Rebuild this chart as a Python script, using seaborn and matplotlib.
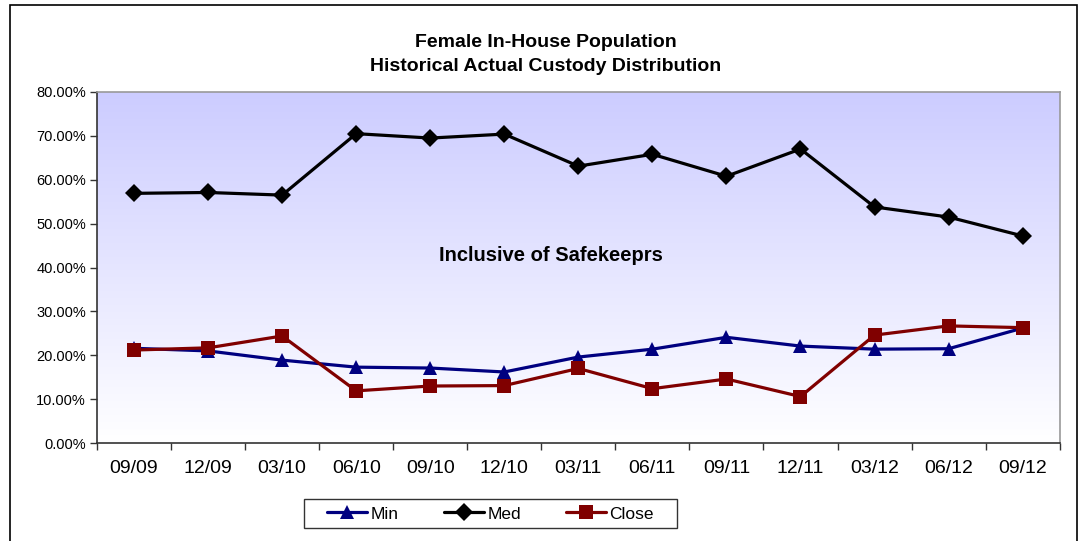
import numpy as np
import pandas as pd
import matplotlib
matplotlib.use("Agg")
import matplotlib.pyplot as plt
import seaborn as sns
from matplotlib.ticker import FuncFormatter, FixedLocator

quarters = ["09/09", "12/09", "03/10", "06/10", "09/10", "12/10", "03/11",
            "06/11", "09/11", "12/11", "03/12", "06/12", "09/12"]
min_vals = [21.6, 21.0, 18.9, 17.3, 17.1, 16.2, 19.6, 21.4, 24.1, 22.1, 21.4, 21.5, 26.2]
med_vals = [56.9, 57.1, 56.5, 70.5, 69.5, 70.4, 63.1, 65.8, 60.8, 67.0, 53.8, 51.5, 47.2]
close_vals = [21.2, 21.7, 24.4, 11.9, 13.0, 13.1, 17.0, 12.4, 14.6, 10.6, 24.6, 26.7, 26.3]
series_names = ["Min", "Med", "Close"]

sns.set_theme(style="white")
plt.rcParams['font.family'] = ['Liberation Sans', 'DejaVu Sans']
plt.rcParams['text.color'] = 'black'
plt.rcParams['xtick.color'] = 'black'
plt.rcParams['ytick.color'] = 'black'
plt.rcParams['xtick.labelcolor'] = 'black'
plt.rcParams['ytick.labelcolor'] = 'black'

df = pd.DataFrame({
    "pos": list(range(len(quarters))) * 3,
    "value": min_vals + med_vals + close_vals,
    "series": [series_names[0]] * len(quarters) + [series_names[1]] * len(quarters) + [series_names[2]] * len(quarters),
})

fig = plt.figure(figsize=(10.78, 5.41), dpi=100)
ax = fig.add_axes([0.09, 0.181, 0.893, 0.649])

# gradient background
grad = np.linspace(0, 1, 256).reshape(-1, 1)
top = np.array([204, 204, 255]) / 255.0
bot = np.array([255, 255, 255]) / 255.0
img = top[None, None, :] * (1 - grad[:, :, None]) + bot[None, None, :] * grad[:, :, None]
ax.imshow(img, extent=[-0.5, len(quarters) - 0.5, 0, 80], aspect='auto', zorder=0)

palette = {"Min": "#000080", "Med": "#000000", "Close": "#800000"}
markers = {"Min": "^", "Med": "D", "Close": "s"}
sns.lineplot(data=df, x="pos", y="value", hue="series", style="series",
             hue_order=series_names, style_order=series_names,
             palette=palette, markers=markers, dashes=False,
             linewidth=2.3, markersize=9.5, markeredgewidth=0, ax=ax, zorder=3,
             legend=True)

ax.set_xlim(-0.5, len(quarters) - 0.5)
ax.set_ylim(0, 80)
ax.set_xlabel("")
ax.set_ylabel("")
ax.set_xticks(range(len(quarters)))
ax.set_xticklabels(quarters, fontsize=14)
ax.xaxis.set_minor_locator(FixedLocator(np.arange(-0.5, len(quarters), 1.0)))
ax.tick_params(axis='x', which='major', length=0, pad=12)
ax.tick_params(axis='x', which='minor', length=5, width=1, color='#333333', direction='out', bottom=True)
ax.set_yticks(np.arange(0, 81, 10))
ax.yaxis.set_major_formatter(FuncFormatter(lambda v, p: f"{v:.2f}%"))
ax.tick_params(axis='y', length=5, width=1, color='#333333', direction='out', left=True, labelsize=10.5, pad=3)

for side in ["left", "bottom"]:
    ax.spines[side].set_color("#333333")
    ax.spines[side].set_linewidth(1.2)
for side in ["top", "right"]:
    ax.spines[side].set_color("#999999")
    ax.spines[side].set_linewidth(1.2)

ax.text(0.472, 0.535, "Inclusive of Safekeeprs", transform=ax.transAxes,
        ha="center", va="center", fontsize=14.5, fontweight="bold", zorder=4)

fig.text(0.506, 0.922, "Female In-House Population", ha="center", va="center",
         fontsize=14, fontweight="bold")
fig.text(0.506, 0.877, "Historical Actual Custody Distribution", ha="center", va="center",
         fontsize=14, fontweight="bold")

handles, labels = ax.get_legend_handles_labels()
ax.legend_.remove()
leg = fig.legend(handles, labels, loc="center", bbox_to_anchor=(0.455, 0.05),
                 ncol=3, frameon=False, fontsize=12.5,
                 handlelength=2.3, handletextpad=0.2, columnspacing=2.6,
                 borderpad=0.4, borderaxespad=0)

# legend frame with wider horizontal padding
fig.canvas.draw()
bb = leg.get_window_extent()
W, H = fig.bbox.width, fig.bbox.height
padx = 16
frame = plt.Rectangle(((bb.x0 - padx) / W, bb.y0 / H), (bb.width + 2 * padx) / W, bb.height / H,
                      transform=fig.transFigure, fill=False, edgecolor="#333333", linewidth=1)
fig.add_artist(frame)

# outer border
border = plt.Rectangle((0.009, -0.02), 0.99, 1.01, transform=fig.transFigure,
                       fill=False, edgecolor="black", linewidth=1.2)
fig.add_artist(border)

fig.savefig("out.png", dpi=100)
